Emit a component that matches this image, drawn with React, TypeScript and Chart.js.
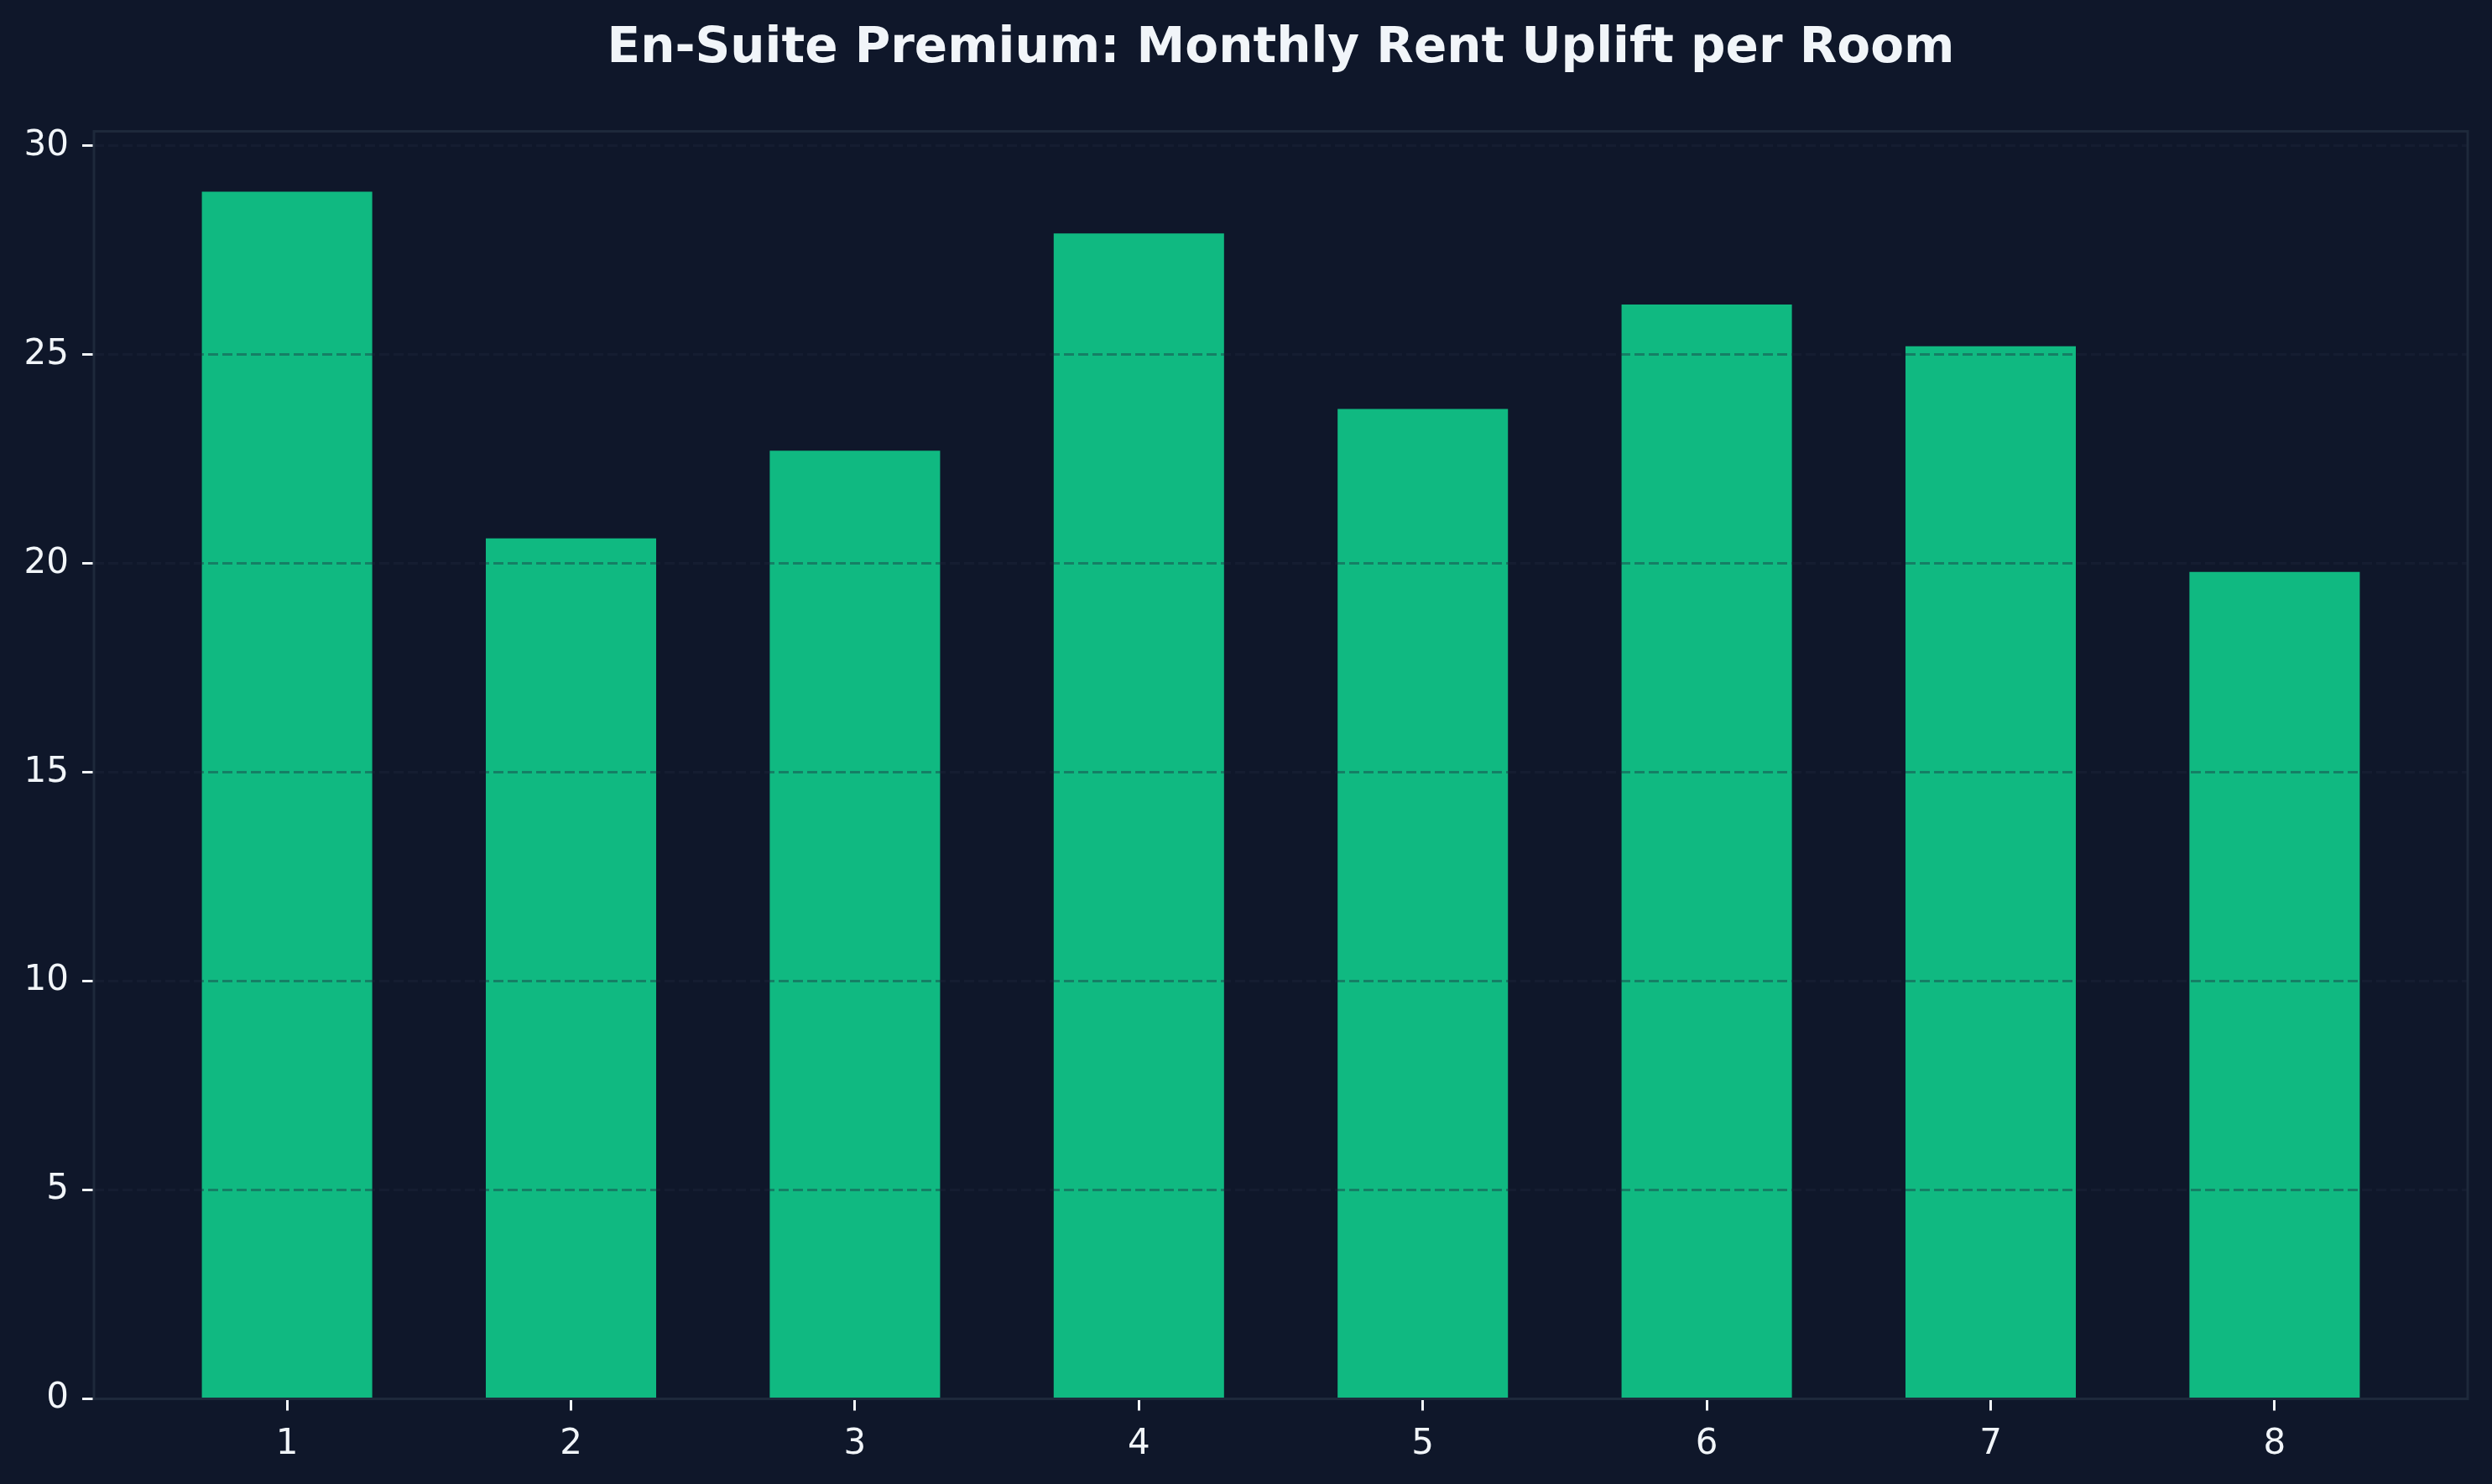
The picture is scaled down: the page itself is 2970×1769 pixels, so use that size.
import React, { useEffect, useRef } from "react";
import { Chart, registerables } from "chart.js";

Chart.register(...registerables);

const categories = ["1", "2", "3", "4", "5", "6", "7", "8"];
const values = [28.9, 20.6, 22.7, 27.9, 23.7, 26.2, 25.2, 19.8];
const yTicks = [0, 5, 10, 15, 20, 25, 30];
const title = "En-Suite Premium: Monthly Rent Uplift per Room";

const BG = "#0f172a";
const BAR = "#10b981";
const FRAME = "#1e293b";
const TEXT = "#f1f5f9";
const GRID = "rgba(30,41,59,0.4)";

export default function App() {
  const ref = useRef<HTMLCanvasElement | null>(null);

  useEffect(() => {
    document.body.style.margin = "0";
    document.body.style.background = BG;
    const canvas = ref.current!;
    const bgPlugin = {
      id: "bg",
      beforeDraw(chart: any) {
        const ctx = chart.ctx;
        ctx.save();
        ctx.fillStyle = BG;
        ctx.fillRect(0, 0, chart.width, chart.height);
        ctx.restore();
      },
      afterDraw(chart: any) {
        const { left, top, right, bottom } = chart.chartArea;
        const ctx = chart.ctx;
        ctx.save();
        ctx.strokeStyle = FRAME;
        ctx.lineWidth = 3;
        ctx.strokeRect(left, top, right - left, bottom - top);
        ctx.restore();
      },
    };

    const n = categories.length;
    const xMin = -0.3 - 0.05 * (n - 1 + 0.6);
    const xMax = n - 1 + 0.3 + 0.05 * (n - 1 + 0.6);

    const chart = new Chart(canvas, {
      type: "bar",
      data: {
        datasets: [
          {
            data: values.map((v, i) => ({ x: i, y: v })),
            backgroundColor: BAR,
            borderWidth: 0,
            barPercentage: 0.6,
            categoryPercentage: 1,
          },
        ],
      },
      options: {
        responsive: false,
        animation: false,
        devicePixelRatio: 1,
        layout: { padding: { left: 0, right: 29, top: 0, bottom: 0 } },
        plugins: {
          legend: { display: false },
          tooltip: { enabled: false },
          title: {
            display: true,
            text: title,
            color: TEXT,
            fullSize: false,
            font: { family: "DejaVu Sans", weight: "bold", size: 58, lineHeight: 1.2 },
            padding: { top: 24, bottom: 63 },
          },
        },
        scales: {
          x: {
            type: "linear",
            min: xMin,
            max: xMax,
            offset: false,
            afterBuildTicks(scale: any) {
              scale.ticks = categories.map((_, i) => ({ value: i }));
            },
            afterFit(scale: any) {
              scale.height = 101.5;
            },
            ticks: {
              color: TEXT,
              font: { family: "DejaVu Sans", size: 42 },
              padding: 15,
              maxRotation: 0,
              autoSkip: false,
              callback: (v: any) => categories[Math.round(Number(v))] ?? "",
            },
            grid: {
              display: true,
              offset: false,
              drawOnChartArea: false,
              drawTicks: true,
              tickLength: 14,
              tickColor: TEXT,
              tickWidth: 3,
            },
            border: { display: false },
          },
          y: {
            min: 0,
            max: Math.max(...values) * 1.05,
            afterBuildTicks(scale: any) {
              scale.ticks = yTicks.map((v) => ({ value: v }));
            },
            afterFit(scale: any) {
              scale.width = 112;
            },
            ticks: {
              color: TEXT,
              font: { family: "DejaVu Sans", size: 42 },
              padding: 16,
            },
            grid: {
              display: true,
              drawOnChartArea: true,
              color: GRID,
              lineWidth: 3,
              drawTicks: true,
              tickLength: 14,
              tickColor: TEXT,
              tickWidth: 3,
              tickBorderDash: [],
              z: 1,
            },
            border: { display: false, dash: [12, 5] },
          },
        },
      } as any,
      plugins: [bgPlugin],
    });
    return () => chart.destroy();
  }, []);

  return <canvas ref={ref} width={2970} height={1769} style={{ display: "block" }} />;
}
